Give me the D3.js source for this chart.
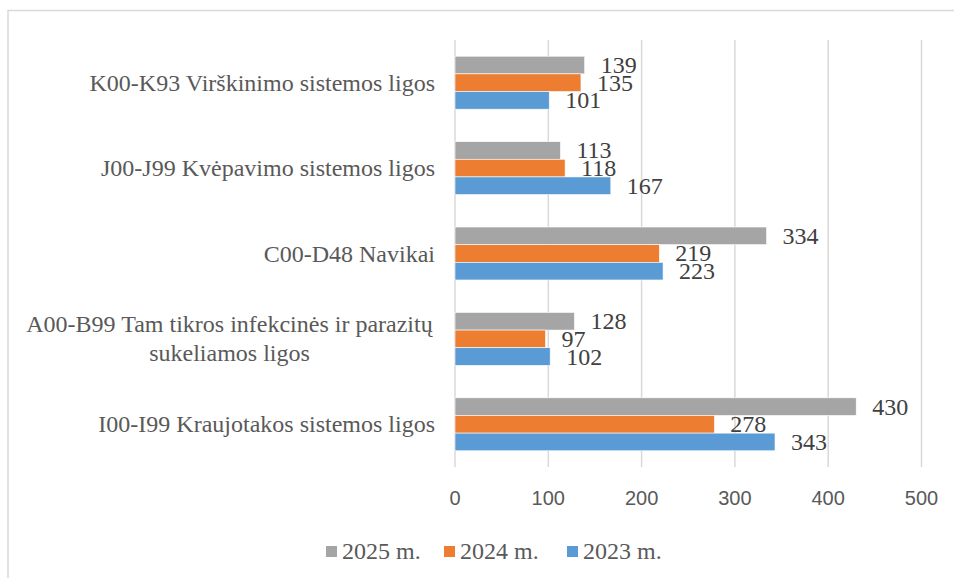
<!DOCTYPE html>
<html>
<head>
<meta charset="utf-8">
<script src="https://cdn.jsdelivr.net/npm/d3@7/dist/d3.min.js"></script>
<style>
  html, body { margin: 0; padding: 0; background: #fff; }
  svg { display: block; }
</style>
</head>
<body>
<svg id="chart" width="954" height="578"></svg>
<script>
// Categories from top to bottom as drawn
const categories = [
  ["K00-K93 Virškinimo sistemos ligos"],
  ["J00-J99 Kvėpavimo sistemos ligos"],
  ["C00-D48 Navikai"],
  ["A00-B99 Tam tikros infekcinės ir parazitų", "sukeliamos ligos"],
  ["I00-I99 Kraujotakos sistemos ligos"]
];
const seriesNames = ["2025 m.", "2024 m.", "2023 m."];
const values2025 = [139, 113, 334, 128, 430];
const values2024 = [135, 118, 219, 97, 278];
const values2023 = [101, 167, 223, 102, 343];
const colors = ["#A5A5A5", "#ED7D31", "#5B9BD5"];
const xTicks = [0, 100, 200, 300, 400, 500];

const seriesValues = [values2025, values2024, values2023];
const catKeys = categories.map(c => c.join(" "));

const svg = d3.select("#chart");

// Frame
svg.append("rect")
  .attr("x", 8).attr("y", 10.5)
  .attr("width", 960).attr("height", 600)
  .attr("fill", "none").attr("stroke", "#d9d9d9").attr("stroke-width", 1.5);

const x = d3.scaleLinear().domain([0, 500]).range([455, 921.5]);
const y = d3.scaleBand().domain(catKeys).range([40, 467]).paddingInner(0.38).paddingOuter(0.19);
const ys = d3.scaleBand().domain(seriesNames).range([0, y.bandwidth()]);

// Grid
svg.append("g").selectAll("line").data(xTicks).join("line")
  .attr("x1", d => x(d)).attr("x2", d => x(d))
  .attr("y1", 40).attr("y2", 467)
  .attr("stroke", "#d9d9d9").attr("stroke-width", 1.5);

// Tick labels
svg.append("g").selectAll("text").data(xTicks).join("text")
  .attr("x", d => x(d)).attr("y", 505)
  .attr("text-anchor", "middle")
  .attr("font-family", "'Liberation Sans', Arial, sans-serif")
  .attr("font-size", 20)
  .attr("fill", "#595959")
  .text(d => d);

// Bars
const groups = svg.append("g").selectAll("g").data(catKeys).join("g")
  .attr("transform", d => `translate(0,${y(d)})`);

groups.each(function(cat, ci) {
  const g = d3.select(this);
  seriesNames.forEach((s, si) => {
    const v = seriesValues[si][ci];
    g.append("rect")
      .attr("x", x(0))
      .attr("y", ys(s))
      .attr("width", x(v) - x(0))
      .attr("height", ys.bandwidth())
      .attr("fill", colors[si])
      .attr("stroke", "#fff").attr("stroke-width", 0.6);
  });
  seriesNames.forEach((s, si) => {
    const v = seriesValues[si][ci];
    g.append("text")
      .attr("x", x(v) + 16)
      .attr("y", ys(s) + ys.bandwidth() / 2 + 8)
      .attr("font-family", "'Liberation Serif', 'Times New Roman', serif")
      .attr("font-size", 24)
      .attr("fill", "#404040")
      .text(v);
  });
});

// Category labels
categories.forEach((lines, ci) => {
  const cy = y(catKeys[ci]) + y.bandwidth() / 2;
  const t = svg.append("text")
    .attr("font-family", "'Liberation Serif', 'Times New Roman', serif")
    .attr("font-size", 24)
    .attr("fill", "#595959");
  if (lines.length === 1) {
    t.attr("x", 435).attr("y", cy + 8).attr("text-anchor", "end").text(lines[0]);
  } else {
    const lh = 29;
    lines.forEach((ln, li) => {
      t.append("tspan")
        .attr("x", 229.5)
        .attr("y", cy + 8 + (li - (lines.length - 1) / 2) * lh)
        .attr("text-anchor", "middle")
        .text(ln);
    });
  }
});

// Legend
const legendX = [326, 444, 567];
const lg = svg.append("g");
seriesNames.forEach((s, i) => {
  lg.append("rect")
    .attr("x", legendX[i]).attr("y", 546)
    .attr("width", 11).attr("height", 11)
    .attr("fill", colors[i]);
  lg.append("text")
    .attr("x", legendX[i] + 16).attr("y", 559)
    .attr("font-family", "'Liberation Serif', 'Times New Roman', serif")
    .attr("font-size", 24)
    .attr("fill", "#595959")
    .text(s);
});
</script>
</body>
</html>
